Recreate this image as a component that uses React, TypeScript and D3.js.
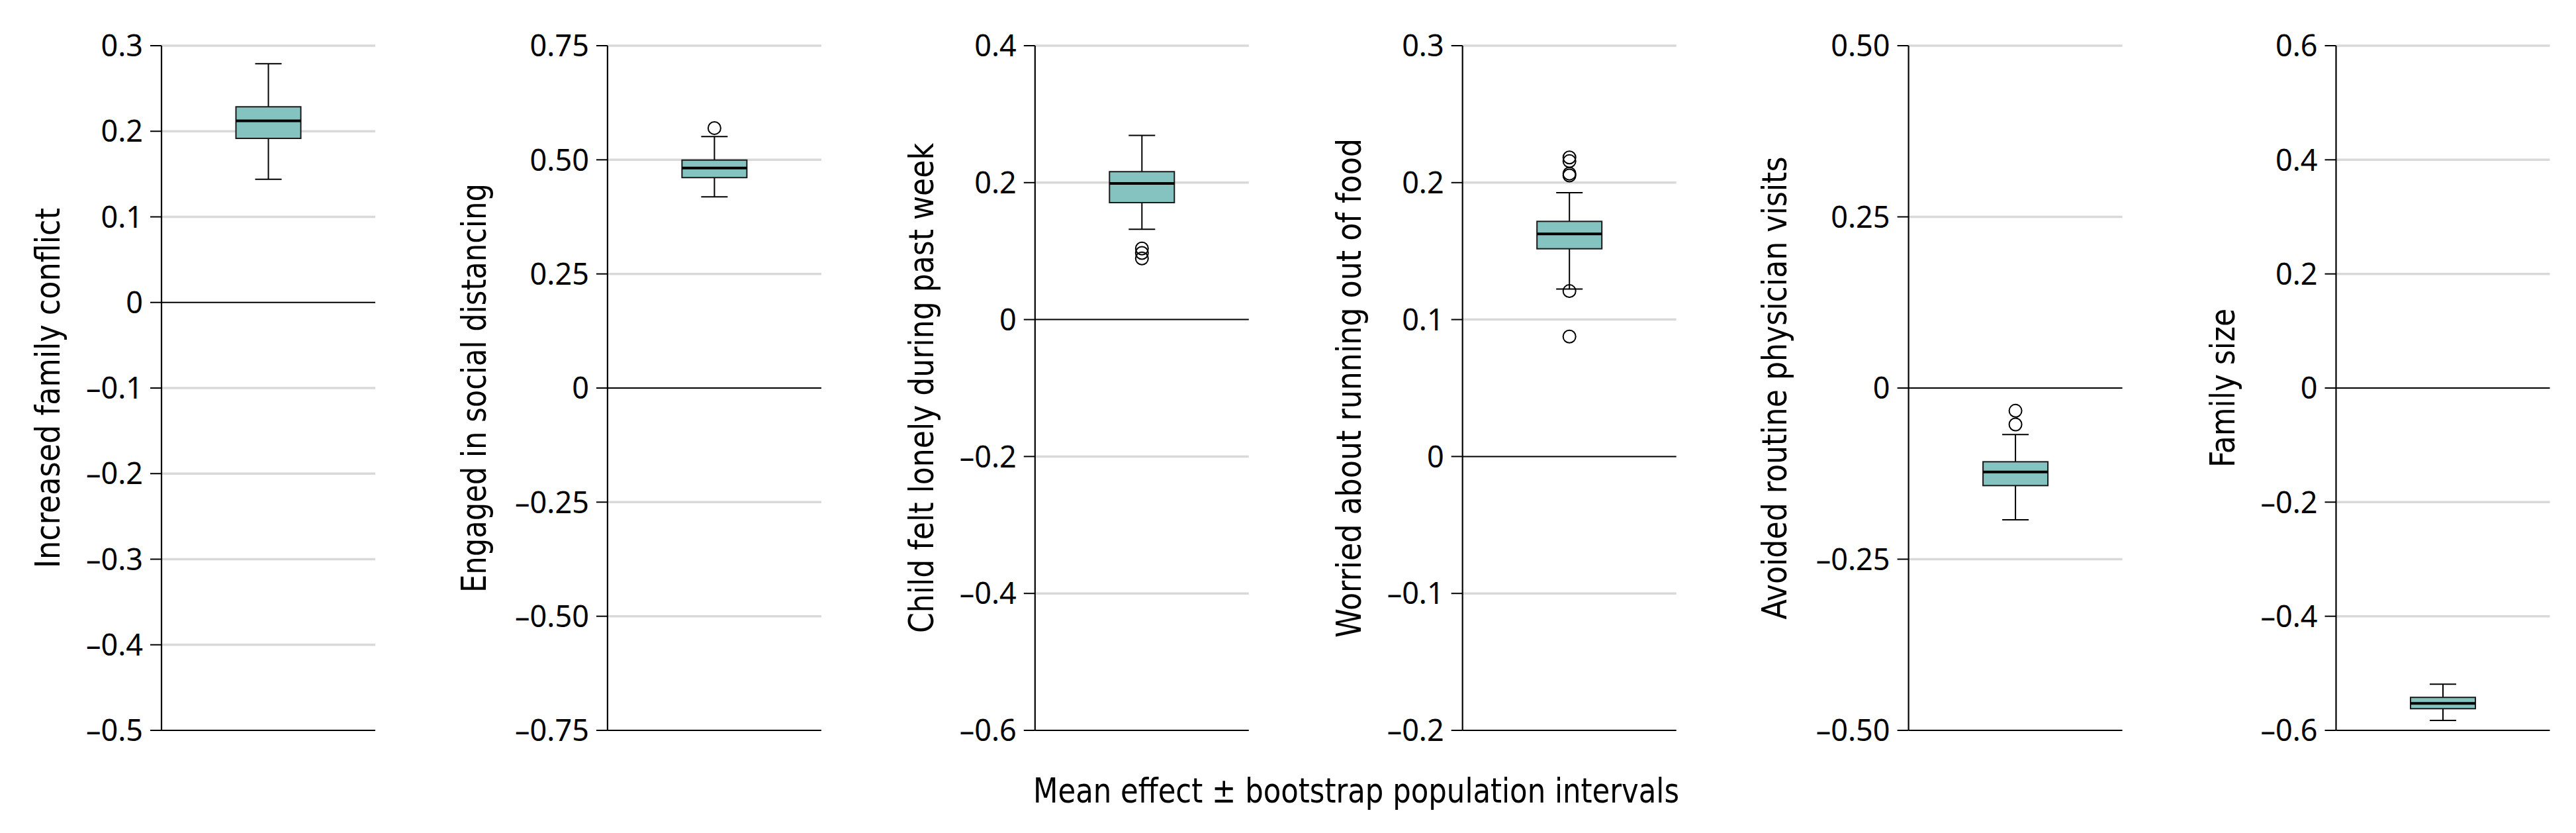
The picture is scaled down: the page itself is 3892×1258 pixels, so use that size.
// @ts-nocheck
import * as d3 from "d3";
import React from "react";

// one entry per panel, left to right
const titles = [
  "Increased family conflict",
  "Engaged in social distancing",
  "Child felt lonely during past week",
  "Worried about running out of food",
  "Avoided routine physician visits",
  "Family size",
];
const domains = [
  [-0.5, 0.3],
  [-0.75, 0.75],
  [-0.6, 0.4],
  [-0.2, 0.3],
  [-0.5, 0.5],
  [-0.6, 0.6],
];
const tickLabels = [
  ["0.3", "0.2", "0.1", "0", "–0.1", "–0.2", "–0.3", "–0.4", "–0.5"],
  ["0.75", "0.50", "0.25", "0", "–0.25", "–0.50", "–0.75"],
  ["0.4", "0.2", "0", "–0.2", "–0.4", "–0.6"],
  ["0.3", "0.2", "0.1", "0", "–0.1", "–0.2"],
  ["0.50", "0.25", "0", "–0.25", "–0.50"],
  ["0.6", "0.4", "0.2", "0", "–0.2", "–0.4", "–0.6"],
];
const whiskerHigh = [0.279, 0.551, 0.269, 0.1926, -0.068, -0.519];
const q3 = [0.2286, 0.4994, 0.216, 0.1717, -0.1077, -0.5422];
const median = [0.2121, 0.482, 0.1989, 0.1625, -0.1225, -0.5527];
const q1 = [0.1917, 0.461, 0.1708, 0.1517, -0.1425, -0.562];
const whiskerLow = [0.144, 0.419, 0.1318, 0.1223, -0.1925, -0.5826];
const outliers = [
  [],
  [0.5695],
  [0.1038, 0.0973, 0.0893],
  [0.2184, 0.2157, 0.2066, 0.2052, 0.1208, 0.0876],
  [-0.0332, -0.0532],
  [],
];
const xTitle = "Mean effect ± bootstrap population intervals";

// rendered lengths of the condensed axis titles
const titleLengths = [544, 618, 740, 754, 699, 240];

const num = (s) => parseFloat(s.replace("–", "-"));
// rough width of a tick label in 45px Noto Sans
const labelWidth = (s) =>
  Array.from(s).reduce((w, c) => w + (c === "." ? 12 : c === "–" ? 22.5 : 25.7), 0);

export default function App() {
  React.useEffect(() => {
    document.body.style.margin = "0";
  }, []);

  const width = 3892;
  const height = 1258;
  const top = 69;
  const bottom = 1103;
  const plotW = 323;
  const boxW = 98;
  const capW = 40;
  const condensed = "'Liberation Sans Narrow', 'DejaVu Sans Condensed', 'Noto Sans', sans-serif";

  const lw = tickLabels.map((ls) => d3.max(ls, labelWidth));
  const axisX = [];
  lw.forEach((w, i) => {
    axisX.push(i === 0 ? 244 : axisX[i - 1] + 646 + (w - 86) * 1.09);
  });

  return (
    <svg width={width} height={height} style={{ display: "block", background: "#fff" }}>
      {titles.map((title, i) => {
        const x0 = axisX[i];
        const y = d3.scaleLinear(domains[i], [bottom, top]);
        const cx = x0 + plotW / 2;
        const titleX = x0 - 51.5 - 1.19 * lw[i];
        return (
          <g key={i}>
            {tickLabels[i].map((t) => {
              const v = num(t);
              const yy = y(v);
              const dark = v === 0 || v === domains[i][0];
              return (
                <g key={t}>
                  <line
                    x1={x0}
                    x2={x0 + plotW}
                    y1={yy}
                    y2={yy}
                    stroke={dark ? "#000" : "#d9d9d9"}
                    strokeWidth={dark ? 2 : 3.5}
                  />
                  <line x1={x0 - 17} x2={x0} y1={yy} y2={yy} stroke="#000" strokeWidth={2} />
                  <text
                    x={x0 - 28}
                    y={yy}
                    dy="0.36em"
                    textAnchor="end"
                    fontFamily="'Noto Sans', sans-serif"
                    fontSize={45}
                    fill="#000"
                  >
                    {t}
                  </text>
                </g>
              );
            })}
            <line x1={x0} x2={x0} y1={top} y2={bottom} stroke="#000" strokeWidth={2.2} />
            <text
              transform={`translate(${titleX},${(top + bottom) / 2}) rotate(-90)`}
              textAnchor="middle"
              fontFamily={condensed}
              fontSize={52}
              textLength={titleLengths[i]}
              lengthAdjust="spacingAndGlyphs"
              fill="#000"
            >
              {title}
            </text>
            {/* whiskers */}
            <line x1={cx} x2={cx} y1={y(whiskerHigh[i])} y2={y(q3[i])} stroke="#000" strokeWidth={2} />
            <line x1={cx} x2={cx} y1={y(q1[i])} y2={y(whiskerLow[i])} stroke="#000" strokeWidth={2} />
            <line
              x1={cx - capW / 2}
              x2={cx + capW / 2}
              y1={y(whiskerHigh[i])}
              y2={y(whiskerHigh[i])}
              stroke="#000"
              strokeWidth={2}
            />
            <line
              x1={cx - capW / 2}
              x2={cx + capW / 2}
              y1={y(whiskerLow[i])}
              y2={y(whiskerLow[i])}
              stroke="#000"
              strokeWidth={2}
            />
            <rect
              x={cx - boxW / 2}
              y={y(q3[i])}
              width={boxW}
              height={y(q1[i]) - y(q3[i])}
              fill="#85c3c1"
              stroke="#1a1a1a"
              strokeWidth={2}
            />
            <line
              x1={cx - boxW / 2}
              x2={cx + boxW / 2}
              y1={y(median[i])}
              y2={y(median[i])}
              stroke="#000"
              strokeWidth={4}
            />
            {outliers[i].map((o, k) => (
              <circle key={k} cx={cx} cy={y(o)} r={9.5} fill="none" stroke="#000" strokeWidth={2} />
            ))}
          </g>
        );
      })}
      <text
        x={2049}
        y={1212}
        textAnchor="middle"
        fontFamily={condensed}
        fontSize={52}
        textLength={976}
        lengthAdjust="spacingAndGlyphs"
        fill="#000"
      >
        {xTitle}
      </text>
    </svg>
  );
}
